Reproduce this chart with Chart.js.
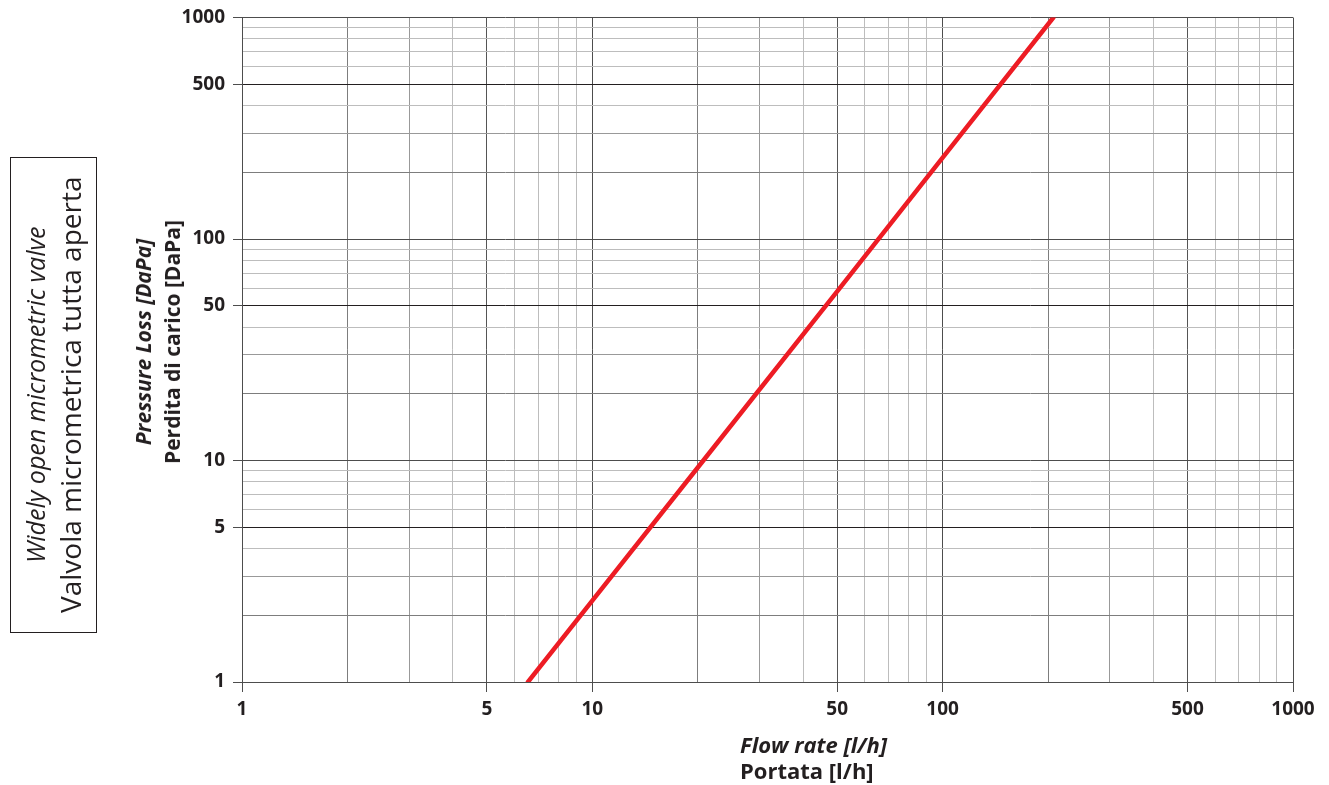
<!DOCTYPE html>
<html>
<head>
<meta charset="utf-8">
<title>Valvola micrometrica tutta aperta</title>
<script src="https://cdn.jsdelivr.net/npm/chart.js@4.4.1/dist/chart.umd.min.js"></script>
<style>
    html, body { margin: 0; padding: 0; background: #fff; }
    #wrap { position: relative; width: 1329px; height: 785px; font-family: "Open Sans", sans-serif; color: #231f20; }
    #chart { position: absolute; left: 0; top: 0; }
    .box {
        position: absolute; left: 10px; top: 157px; width: 87px; height: 476px;
        border: 1px solid #231f20; box-sizing: border-box;
        writing-mode: vertical-rl; transform: rotate(180deg);
        display: flex; flex-direction: column; justify-content: center; align-items: center;
        line-height: 35px; text-align: center; white-space: nowrap;
    }
    .box .l1 { font-style: italic; font-weight: 400; font-size: 25px; }
    .box .l2 { font-size: 28px; }
    .ytitle {
        position: absolute; left: 158px; top: 342px; transform: translate(-50%, -50%) rotate(-90deg);
        white-space: nowrap; text-align: center; font-weight: 700; font-size: 21px; line-height: 29px;
    }
    .xtitle { position: absolute; left: 740px; top: 731px; font-weight: 700; font-size: 22px; line-height: 26px; white-space: nowrap; }
    .it { font-style: italic; }
</style>
</head>
<body>
<div id="wrap">
    <canvas id="chart" width="1329" height="785"></canvas>
    <div class="box"><div class="l1">Widely open micrometric valve</div><div class="l2">Valvola micrometrica tutta aperta</div></div>
    <div class="ytitle"><div class="it">Pressure Loss [DaPa]</div><div>Perdita di carico [DaPa]</div></div>
    <div class="xtitle"><div class="it">Flow rate [l/h]</div><div>Portata [l/h]</div></div>
</div>
<script>
// curve (slope 2 on log-log)
const flowRate = [6.55, 10, 20, 50, 100, 207];
const pressureLoss = [1, 2.33, 9.3, 58, 233, 1000];

// grid values for both log axes
const gridValues = [1, 2, 3, 4, 5, 6, 7, 8, 9, 10, 20, 30, 40, 50, 60, 70, 80, 90,
    100, 200, 300, 400, 500, 600, 700, 800, 900, 1000];
const labelledTicks = [1, 5, 10, 50, 100, 500, 1000];

function mantissa(v) {
    return Math.round(v / Math.pow(10, Math.floor(Math.log10(v) + 1e-9)));
}

function gridColor(horizontal) {
    return function (ctx) {
        const v = ctx.tick && ctx.tick.value;
        if (v === undefined) return '#bbb';
        const m = mantissa(v);
        if (m === 1) return '#4d4d4d';
        if (m === 5) return horizontal ? '#231f20' : '#555';
        if (m === 2) return '#7d7d7d';
        if (m === 3) return '#999';
        return '#bdbdbd';
    };
}

function tickColor(ctx) {
    const v = ctx.tick && ctx.tick.value;
    return labelledTicks.includes(v) ? '#4d4d4d' : 'rgba(0,0,0,0)';
}

const xTickFont = { family: '"Open Sans", sans-serif', size: 19, weight: 'bold' };
const yTickFont = { family: '"Open Sans", sans-serif', size: 19, weight: 'bold', lineHeight: 1 };

new Chart(document.getElementById('chart'), {
    type: 'scatter',
    data: {
        datasets: [{
            data: flowRate.map((q, i) => ({ x: q, y: pressureLoss[i] })),
            showLine: true,
            borderColor: '#ed1c24',
            borderWidth: 4.5,
            pointRadius: 0,
            borderCapStyle: 'round'
        }]
    },
    options: {
        responsive: false,
        animation: false,
        layout: { padding: { top: 17, right: 36, left: 0, bottom: 0 } },
        plugins: { legend: { display: false }, tooltip: { enabled: false } },
        scales: {
            x: {
                type: 'logarithmic',
                min: 1, max: 1000,
                afterBuildTicks: s => { s.ticks = gridValues.map(v => ({ value: v })); },
                afterFit: s => { s.height = 103; },
                border: { color: '#4d4d4d', width: 1 },
                grid: { color: gridColor(false), tickColor: tickColor, tickLength: 10, lineWidth: 1 },
                ticks: {
                    autoSkip: false, maxRotation: 0, padding: 6,
                    color: '#231f20', font: xTickFont,
                    callback: v => labelledTicks.includes(v) ? String(v) : ''
                }
            },
            y: {
                type: 'logarithmic',
                min: 1, max: 1000,
                afterBuildTicks: s => { s.ticks = gridValues.map(v => ({ value: v })); },
                afterFit: s => { s.width = 242; },
                border: { color: '#4d4d4d', width: 1 },
                grid: { color: gridColor(true), tickColor: tickColor, tickLength: 9, lineWidth: 1 },
                ticks: {
                    autoSkip: false, padding: 8,
                    color: '#231f20', font: yTickFont,
                    callback: v => labelledTicks.includes(v) ? String(v) : ''
                }
            }
        }
    }
});
</script>
</body>
</html>
